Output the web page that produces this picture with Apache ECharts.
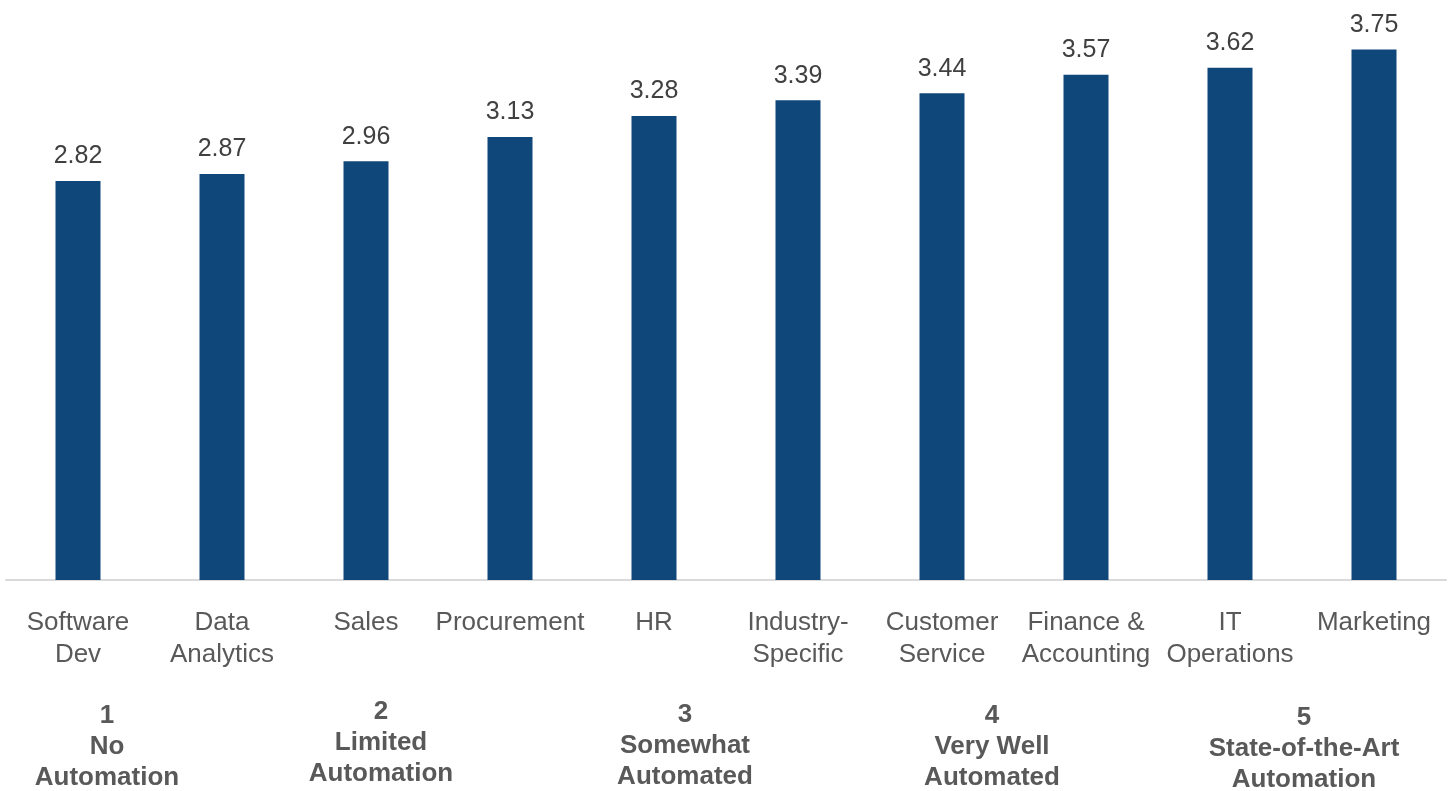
<!DOCTYPE html>
<html>
<head>
<meta charset="utf-8">
<script src="https://cdn.jsdelivr.net/npm/echarts@6/dist/echarts.min.js"></script>
<style>
  html, body { margin: 0; padding: 0; background: #ffffff; }
  #chart { width: 1450px; height: 791px; }
</style>
</head>
<body>
<div id="chart"></div>
<script>
// Functions ordered by average automation score
const categories = [
  'Software\nDev', 'Data\nAnalytics', 'Sales', 'Procurement', 'HR',
  'Industry-\nSpecific', 'Customer\nService', 'Finance &\nAccounting', 'IT\nOperations', 'Marketing'
];
const scores = [2.82, 2.87, 2.96, 3.13, 3.28, 3.39, 3.44, 3.57, 3.62, 3.75];

// Rating scale legend shown under the axis
const scaleLabels = [
  '1\nNo\nAutomation',
  '2\nLimited\nAutomation',
  '3\nSomewhat\nAutomated',
  '4\nVery Well\nAutomated',
  '5\nState-of-the-Art\nAutomation'
];
const scaleX = [107, 381, 685, 992, 1304];
const scaleTop = [700, 696, 699, 700, 702];

const FONT = '"Liberation Sans", Arial, sans-serif';

const chart = echarts.init(document.getElementById('chart'), null, { renderer: 'canvas' });

chart.setOption({
  backgroundColor: '#ffffff',
  animation: false,
  grid: { left: 6, right: 4, top: 14, bottom: 211, containLabel: false },
  xAxis: {
    type: 'category',
    data: categories,
    axisLine: { show: true, lineStyle: { color: '#d9d9d9', width: 2 } },
    axisTick: { show: false },
    axisLabel: {
      interval: 0,
      margin: 27,
      color: '#595959',
      fontFamily: FONT,
      fontSize: 26,
      lineHeight: 32
    }
  },
  yAxis: {
    type: 'value',
    min: 0,
    max: 4,
    show: false,
    splitLine: { show: false }
  },
  series: [{
    type: 'bar',
    data: scores,
    barWidth: 45,
    itemStyle: { color: '#0f477a' },
    label: {
      show: true,
      position: 'top',
      distance: 12,
      color: '#404040',
      fontFamily: FONT,
      fontSize: 25,
      formatter: p => p.value.toFixed(2)
    }
  }],
  // scale legend text, centred on each x position
  graphic: scaleLabels.map((t, i) => ({
    type: 'text',
    x: scaleX[i],
    y: scaleTop[i],
    style: {
      text: t,
      align: 'center',
      verticalAlign: 'top',
      fill: '#595959',
      font: 'bold 26px ' + FONT,
      lineHeight: 31
    }
  }))
});
</script>
</body>
</html>
